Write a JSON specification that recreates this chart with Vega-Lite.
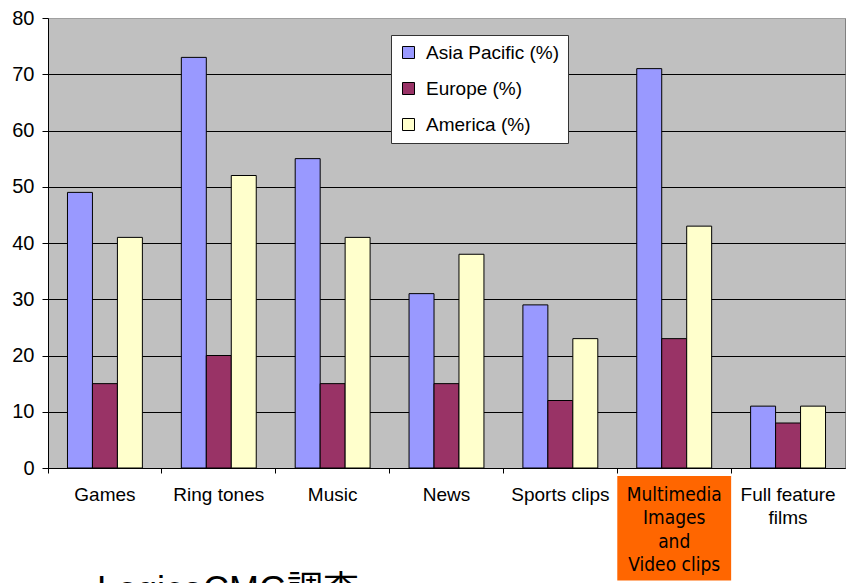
{
  "$schema": "https://vega.github.io/schema/vega-lite/v6.json",
  "autosize": "none",
  "width": 797,
  "height": 450,
  "padding": {"left": 48, "top": 18, "right": 8, "bottom": 115},
  "background": "white",
  "config": {
    "font": "Liberation Sans",
    "view": {"fill": "#C0C0C0", "stroke": "#808080", "strokeWidth": 1}
  },
  "data": {
    "values": [
      {"category": "Games", "region": "Asia Pacific (%)", "value": 49},
      {"category": "Games", "region": "Europe (%)", "value": 15},
      {"category": "Games", "region": "America (%)", "value": 41},
      {"category": "Ring tones", "region": "Asia Pacific (%)", "value": 73},
      {"category": "Ring tones", "region": "Europe (%)", "value": 20},
      {"category": "Ring tones", "region": "America (%)", "value": 52},
      {"category": "Music", "region": "Asia Pacific (%)", "value": 55},
      {"category": "Music", "region": "Europe (%)", "value": 15},
      {"category": "Music", "region": "America (%)", "value": 41},
      {"category": "News", "region": "Asia Pacific (%)", "value": 31},
      {"category": "News", "region": "Europe (%)", "value": 15},
      {"category": "News", "region": "America (%)", "value": 38},
      {"category": "Sports clips", "region": "Asia Pacific (%)", "value": 29},
      {"category": "Sports clips", "region": "Europe (%)", "value": 12},
      {"category": "Sports clips", "region": "America (%)", "value": 23},
      {"category": "Multimedia Images and Video clips", "region": "Asia Pacific (%)", "value": 71},
      {"category": "Multimedia Images and Video clips", "region": "Europe (%)", "value": 23},
      {"category": "Multimedia Images and Video clips", "region": "America (%)", "value": 43},
      {"category": "Full feature films", "region": "Asia Pacific (%)", "value": 11},
      {"category": "Full feature films", "region": "Europe (%)", "value": 8},
      {"category": "Full feature films", "region": "America (%)", "value": 11}
    ]
  },
  "layer": [
    {
      "transform": [
        {"filter": "datum.category === 'Multimedia Images and Video clips' && datum.region === 'Asia Pacific (%)'"}
      ],
      "mark": {"type": "rect", "fill": "#FF6600", "clip": false},
      "encoding": {
        "x": {"field": "category", "type": "nominal"},
        "y": {"datum": -1.4},
        "y2": {"datum": -20}
      }
    },
    {
      "mark": {"type": "bar", "stroke": "black", "strokeWidth": 1, "opacity": 1},
      "encoding": {
        "x": {
          "field": "category",
          "type": "nominal",
          "scale": {
            "domain": ["Games", "Ring tones", "Music", "News", "Sports clips", "Multimedia Images and Video clips", "Full feature films"],
            "paddingInner": 0,
            "paddingOuter": 0
          },
          "axis": {
            "title": null,
            "zindex": 1,
            "labelAngle": 0,
            "bandPosition": 0,
            "domainColor": "black",
            "tickColor": "black",
            "tickSize": 5,
            "labelPadding": 12,
            "labelAlign": "center",
            "labelFontSize": 19,
            "labelFont": {"condition": {"test": "datum.label === 'Multimedia Images and Video clips'", "value": "DejaVu Sans Condensed, Liberation Sans"}, "value": "Liberation Sans"},
            "labelColor": "black",
            "labelBaseline": "top",
            "labelLineHeight": 23.5,
            "labelExpr": "datum.label === 'Multimedia Images and Video clips' ? ['Multimedia','Images','and','Video clips'] : datum.label === 'Full feature films' ? ['Full feature','films'] : datum.label"
          }
        },
        "xOffset": {
          "field": "region",
          "type": "nominal",
          "sort": ["Asia Pacific (%)", "Europe (%)", "America (%)"],
          "scale": {"paddingInner": 0, "paddingOuter": 0.78}
        },
        "y": {
          "field": "value",
          "type": "quantitative",
          "scale": {"domain": [0, 80], "nice": false},
          "axis": {
            "title": null,
            "values": [0, 10, 20, 30, 40, 50, 60, 70, 80],
            "zindex": 0,
            "grid": true,
            "gridColor": {"condition": {"test": "datum.value === 80", "value": "#A0A0A0"}, "value": "black"},
            "gridOpacity": 1,
            "domainColor": "black",
            "tickColor": "black",
            "tickSize": 6,
            "labelPadding": 8,
            "labelFontSize": 20,
            "labelColor": "black"
          }
        },
        "color": {
          "field": "region",
          "type": "nominal",
          "scale": {"domain": ["Asia Pacific (%)", "Europe (%)", "America (%)"], "range": ["#9999FF", "#993366", "#FFFFCC"]},
          "legend": {
            "title": null,
            "orient": "none",
            "legendX": 343,
            "legendY": 17,
            "fillColor": "white",
            "strokeColor": "#333333",
            "padding": 8,
            "symbolType": "square",
            "symbolSize": 144,
            "symbolStrokeColor": "black",
            "symbolStrokeWidth": 1,
            "symbolOpacity": 1,
            "labelFontSize": 19,
            "labelColor": "black",
            "labelOffset": 8,
            "rowPadding": 16
          }
        }
      }
    },
    {
      "data": {"values": [{"note": "LogicaCMG調査"}]},
      "mark": {"type": "text", "fontSize": 36, "font": "Liberation Sans, Noto Sans CJK JP", "align": "left", "baseline": "alphabetic", "color": "black", "dx": 49, "clip": false},
      "encoding": {
        "x": {"datum": "Games", "bandPosition": 0},
        "y": {"datum": -23.8},
        "text": {"field": "note"}
      }
    }
  ]
}
